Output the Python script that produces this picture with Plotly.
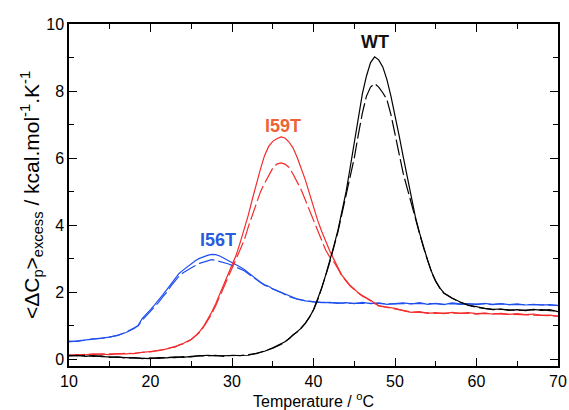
import plotly.graph_objects as go

# ---------------- data ----------------
wt_T = [10, 11, 12, 13, 14, 15, 16, 17, 18, 19, 20, 21, 22, 23, 24, 25, 26, 27, 28, 29, 30,
        31, 32, 33, 34, 35, 36, 36.5, 37, 37.5, 38, 38.5, 39, 39.5, 40, 40.5, 41, 41.5, 42,
        42.5, 43, 43.5, 44, 44.5, 45, 45.5, 46, 46.5, 47, 47.5, 48, 48.5, 49, 49.5, 50, 50.5,
        51, 51.5, 52, 52.5, 53, 53.5, 54, 54.5, 55, 55.5, 56, 57, 58, 59, 60, 61, 62, 63, 64,
        65, 66, 67, 68, 69, 70]
wt_solid = [0.10, 0.12, 0.09, 0.11, 0.08, 0.07, 0.05, 0.06, 0.03, 0.04, 0.02, 0.05, 0.04, 0.07,
            0.06, 0.09, 0.10, 0.12, 0.10, 0.11, 0.10, 0.13, 0.12, 0.18, 0.24, 0.34, 0.45, 0.52,
            0.62, 0.72, 0.82, 0.93, 1.08, 1.25, 1.48, 1.78, 2.12, 2.52, 2.92, 3.38, 3.85, 4.42,
            5.00, 5.72, 6.48, 7.25, 7.92, 8.45, 8.85, 9.02, 8.93, 8.72, 8.35, 7.85, 7.30, 6.68,
            6.05, 5.42, 4.80, 4.25, 3.78, 3.35, 2.95, 2.60, 2.33, 2.13, 1.98, 1.83, 1.71, 1.62,
            1.56, 1.52, 1.49, 1.50, 1.46, 1.48, 1.45, 1.49, 1.46, 1.48, 1.42]
wt_dashed = [0.11, 0.10, 0.12, 0.09, 0.10, 0.06, 0.07, 0.04, 0.05, 0.02, 0.04, 0.03, 0.06, 0.05,
             0.08, 0.07, 0.11, 0.10, 0.12, 0.09, 0.12, 0.11, 0.14, 0.17, 0.25, 0.33, 0.44, 0.53,
             0.61, 0.73, 0.81, 0.94, 1.07, 1.26, 1.47, 1.76, 2.10, 2.50, 2.90, 3.35, 3.80, 4.35,
             4.92, 5.50, 6.00, 6.70, 7.35, 7.85, 8.12, 8.22, 8.12, 7.95, 7.75, 7.30, 6.70, 6.10,
             5.55, 5.10, 4.68, 4.20, 3.76, 3.33, 2.93, 2.59, 2.32, 2.12, 1.97, 1.82, 1.70, 1.61,
             1.55, 1.51, 1.48, 1.49, 1.47, 1.46, 1.47, 1.47, 1.48, 1.45, 1.44]

i59t_T = [10, 11, 12, 13, 14, 15, 16, 17, 18, 19, 20, 21, 22, 22.5, 23, 23.5, 24, 24.5, 25,
          25.5, 26, 26.5, 27, 27.5, 28, 28.5, 29, 29.5, 30, 30.5, 31, 31.5, 32, 32.5, 33, 33.5,
          34, 34.5, 35, 35.5, 36, 36.5, 37, 37.5, 38, 38.5, 39, 39.5, 40, 40.5, 41, 41.5, 42,
          42.5, 43, 43.5, 44, 44.5, 45, 45.5, 46, 46.5, 47, 47.5, 48, 49, 50, 51, 52, 53, 54,
          55, 56, 57, 58, 59, 60, 61, 62, 63, 64, 65, 66, 67, 68, 69, 70]
i59t_solid = [0.12, 0.14, 0.13, 0.16, 0.15, 0.14, 0.17, 0.16, 0.18, 0.20, 0.23, 0.26, 0.31, 0.34,
              0.37, 0.42, 0.47, 0.53, 0.60, 0.70, 0.82, 0.98, 1.18, 1.40, 1.66, 1.95, 2.24, 2.52,
              2.82, 3.10, 3.48, 3.86, 4.30, 4.78, 5.25, 5.68, 6.08, 6.35, 6.50, 6.58, 6.63, 6.60,
              6.48, 6.30, 6.02, 5.70, 5.35, 4.95, 4.52, 4.15, 3.82, 3.50, 3.23, 2.98, 2.74, 2.50,
              2.35, 2.20, 2.10, 1.98, 1.90, 1.84, 1.76, 1.68, 1.60, 1.56, 1.52, 1.45, 1.40, 1.42,
              1.37, 1.39, 1.36, 1.40, 1.37, 1.39, 1.36, 1.38, 1.35, 1.37, 1.34, 1.36, 1.33, 1.35,
              1.31, 1.32, 1.28]
i59t_dashed = [0.13, 0.12, 0.15, 0.14, 0.16, 0.15, 0.16, 0.18, 0.17, 0.21, 0.22, 0.27, 0.30, 0.35,
               0.36, 0.43, 0.46, 0.52, 0.59, 0.69, 0.80, 0.96, 1.14, 1.35, 1.60, 1.88, 2.16, 2.45,
               2.74, 3.02, 3.32, 3.55, 3.95, 4.30, 4.66, 5.00, 5.25, 5.50, 5.70, 5.82, 5.86, 5.82,
               5.72, 5.52, 5.28, 5.05, 4.75, 4.45, 4.15, 3.80, 3.50, 3.25, 3.05, 2.90, 2.70, 2.48,
               2.33, 2.18, 2.08, 1.97, 1.88, 1.82, 1.74, 1.67, 1.59, 1.55, 1.50, 1.46, 1.41, 1.40,
               1.38, 1.37, 1.38, 1.38, 1.36, 1.37, 1.35, 1.37, 1.36, 1.35, 1.35, 1.34, 1.34, 1.33,
               1.32, 1.30, 1.29]

i56t_T = [10, 11, 12, 13, 14, 15, 16, 17, 18, 18.5, 19, 19.5, 20, 20.5, 21, 21.5, 22, 22.5, 23,
          23.5, 24, 24.5, 25, 25.5, 26, 26.5, 27, 27.5, 28, 28.5, 29, 29.5, 30, 30.5, 31, 31.5,
          32, 32.5, 33, 33.5, 34, 34.5, 35, 35.5, 36, 37, 38, 39, 40, 41, 42, 43, 44, 45, 46,
          47, 48, 49, 50, 51, 52, 53, 54, 55, 56, 57, 58, 59, 60, 61, 62, 63, 64, 65, 66, 67,
          68, 69, 70]
i56t_solid = [0.52, 0.55, 0.56, 0.60, 0.63, 0.66, 0.72, 0.80, 0.92, 1.02, 1.22, 1.34, 1.48, 1.62,
              1.76, 1.92, 2.08, 2.25, 2.42, 2.56, 2.66, 2.76, 2.86, 2.94, 3.01, 3.06, 3.10, 3.13,
              3.12, 3.08, 3.02, 2.95, 2.88, 2.82, 2.75, 2.68, 2.58, 2.48, 2.38, 2.30, 2.22, 2.18,
              2.10, 2.05, 2.00, 1.88, 1.80, 1.74, 1.72, 1.69, 1.70, 1.67, 1.69, 1.66, 1.70, 1.66,
              1.68, 1.64, 1.66, 1.68, 1.65, 1.69, 1.64, 1.67, 1.63, 1.68, 1.65, 1.66, 1.63, 1.67,
              1.64, 1.66, 1.63, 1.65, 1.62, 1.64, 1.62, 1.63, 1.60]
i56t_dashed = [0.54, 0.53, 0.57, 0.61, 0.62, 0.67, 0.71, 0.81, 0.93, 1.00, 1.17, 1.30, 1.43, 1.56,
               1.70, 1.86, 2.00, 2.18, 2.34, 2.48, 2.58, 2.66, 2.74, 2.80, 2.86, 2.90, 2.95, 2.97,
               2.95, 2.92, 2.88, 2.85, 2.80, 2.75, 2.70, 2.64, 2.55, 2.46, 2.36, 2.29, 2.21, 2.16,
               2.09, 2.04, 1.99, 1.87, 1.79, 1.75, 1.71, 1.70, 1.68, 1.68, 1.67, 1.68, 1.67, 1.67,
               1.66, 1.66, 1.65, 1.66, 1.66, 1.67, 1.65, 1.66, 1.64, 1.66, 1.64, 1.65, 1.64, 1.65,
               1.63, 1.65, 1.63, 1.64, 1.63, 1.63, 1.62, 1.62, 1.61]

series_names = ["WT", "I59T", "I56T"]
label_T = [47.6, 36.3, 28.3]
label_v = [9.45, 6.95, 3.55]

# ---------------- styles ----------------
BLACK = "#000000"
RED = "#F42C2C"
BLUE = "#1F4FEF"
LABEL_COLORS = ["#111111", "#EE6236", "#2A5BDC"]
FONT = "Liberation Sans, Arial, Helvetica, sans-serif"
DASH = "16px,4px"

fig = go.Figure()
for T, solid, dashed, col in [
    (i56t_T, i56t_solid, i56t_dashed, BLUE),
    (i59t_T, i59t_solid, i59t_dashed, RED),
    (wt_T, wt_solid, wt_dashed, BLACK),
]:
    fig.add_trace(go.Scatter(x=T, y=dashed, mode="lines",
                             line=dict(color=col, width=1.2, dash=DASH),
                             showlegend=False, hoverinfo="skip"))
    fig.add_trace(go.Scatter(x=T, y=solid, mode="lines",
                             line=dict(color=col, width=1.2),
                             showlegend=False, hoverinfo="skip"))

for name, tx, ty, col in zip(series_names, label_T, label_v, LABEL_COLORS):
    fig.add_annotation(x=tx, y=ty, text="<b>" + name + "</b>", showarrow=False,
                       font=dict(family=FONT, size=18, color=col))

axis_common = dict(
    showline=True, linecolor="black", linewidth=1.5, mirror="ticks",
    ticks="inside", ticklen=8, tickwidth=1.2, tickcolor="black",
    showgrid=False, zeroline=False, automargin=False,
    tickfont=dict(family=FONT, size=16, color="black"),
)

fig.update_xaxes(
    range=[10, 70], tickvals=[10, 20, 30, 40, 50, 60, 70],
    minor=dict(tickvals=[15, 25, 35, 45, 55, 65], ticks="inside", ticklen=5,
               tickwidth=1.2, tickcolor="black"),
    title=dict(text="Temperature / <sup>o</sup>C",
               font=dict(family=FONT, size=16, color="black"), standoff=4),
    **axis_common,
)
fig.update_yaxes(
    range=[-0.2, 10], tickvals=[0, 2, 4, 6, 8, 10],
    minor=dict(tickvals=[1, 3, 5, 7, 9], ticks="inside", ticklen=5,
               tickwidth=1.2, tickcolor="black"),
    title=dict(text="&lt;ΔC<sub>p</sub>&gt;<sub>excess</sub> / kcal.mol<sup>-1</sup>.K<sup>-1</sup>",
               font=dict(family=FONT, size=21, color="black"), standoff=1),
    **axis_common,
)

fig.update_layout(
    width=569, height=410,
    margin=dict(l=69, r=11, t=24, b=44),
    paper_bgcolor="white", plot_bgcolor="white",
    font=dict(family=FONT, color="black"),
)

fig.write_html("out.html", config={"displayModeBar": False},
               post_script="document.body.style.margin='0px';document.body.style.overflow='hidden';")
